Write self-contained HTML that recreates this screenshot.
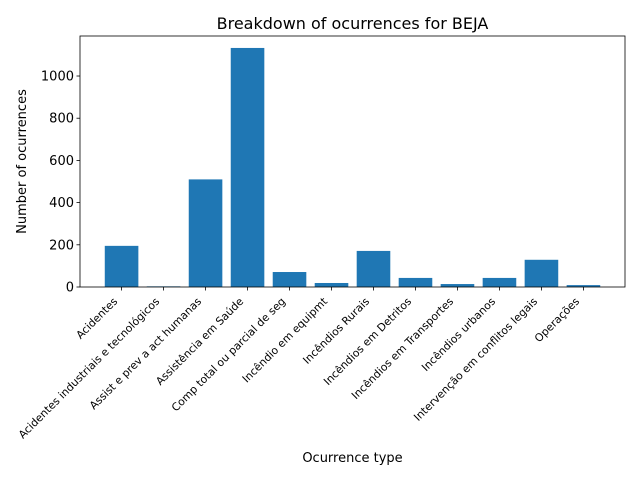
<!DOCTYPE html>
<html><head><meta charset="utf-8"><style>body{margin:0;background:#fff}svg{font-family:"DejaVu Sans","Liberation Sans",sans-serif}</style></head>
<body>
<svg id="c" width="640" height="480"></svg>
<script>
const categories=["Acidentes","Acidentes industriais e tecnológicos","Assist e prev a act humanas","Assistência em Saúde","Comp total ou parcial de seg","Incêndio em equipmt","Incêndios Rurais","Incêndios em Detritos","Incêndios em Transportes","Incêndios urbanos","Intervenção em conflitos legais","Operações"];
const values=[195,3,510,1133,71,19,171,43,14,43,129,9];
const yTicks=[0,200,400,600,800,1000];
const L=80,R=625,T=36,B=287;
const ymax=Math.max(...values)*1.05;
const n=categories.length;
const xmin=-0.4-(n-0.2)*0.05, xmax=n-1+0.4+(n-0.2)*0.05;
const xs=v=>L+(v-xmin)/(xmax-xmin)*(R-L);
const ys=v=>B-v/ymax*(B-T);
const svg=document.getElementById('c');
const NS="http://www.w3.org/2000/svg";
function mk(t,a,txt){const e=document.createElementNS(NS,t);for(const k in a)e.setAttribute(k,a[k]);if(txt!==undefined)e.textContent=txt;svg.appendChild(e);return e;}
values.forEach((v,i)=>{
 const b=mk('rect',{x:xs(i-0.4),y:ys(v),width:xs(i+0.4)-xs(i-0.4),height:B-ys(v),fill:'#1f77b4'});
 
 
 const x=xs(i);
 const tk=mk('line',{x1:x,x2:x,y1:B,y2:B+3.5,stroke:'#000','stroke-width':0.8});
 
 
 const tx=x-3.5, ty=B+15;
 const t=mk('text',{x:tx,y:ty,'font-size':10.8,'text-anchor':'end',transform:`rotate(-45 ${tx} ${ty})`},categories[i]);
 
 
});
yTicks.forEach(v=>{
 const y=ys(v);
 const tk=mk('line',{x1:L-3.5,x2:L,y1:y,y2:y,stroke:'#000','stroke-width':0.8});
 
 
 const t=mk('text',{x:L-6,y:y+4.5,'font-size':13,'text-anchor':'end'},v);
 
 
});
const fr=mk('rect',{x:L,y:T,width:R-L,height:B-T,fill:'none',stroke:'#000','stroke-width':0.8});


const ti=mk('text',{x:(L+R)/2,y:29,'font-size':16,'text-anchor':'middle'},'Breakdown of ocurrences for BEJA');


const xt=mk('text',{x:(L+R)/2,y:462,'font-size':13,'text-anchor':'middle'},'Ocurrence type');


const yt=mk('text',{x:26,y:(T+B)/2,'font-size':13,'text-anchor':'middle',transform:`rotate(-90 26 ${(T+B)/2})`},'Number of ocurrences');


</script>
</body></html>
